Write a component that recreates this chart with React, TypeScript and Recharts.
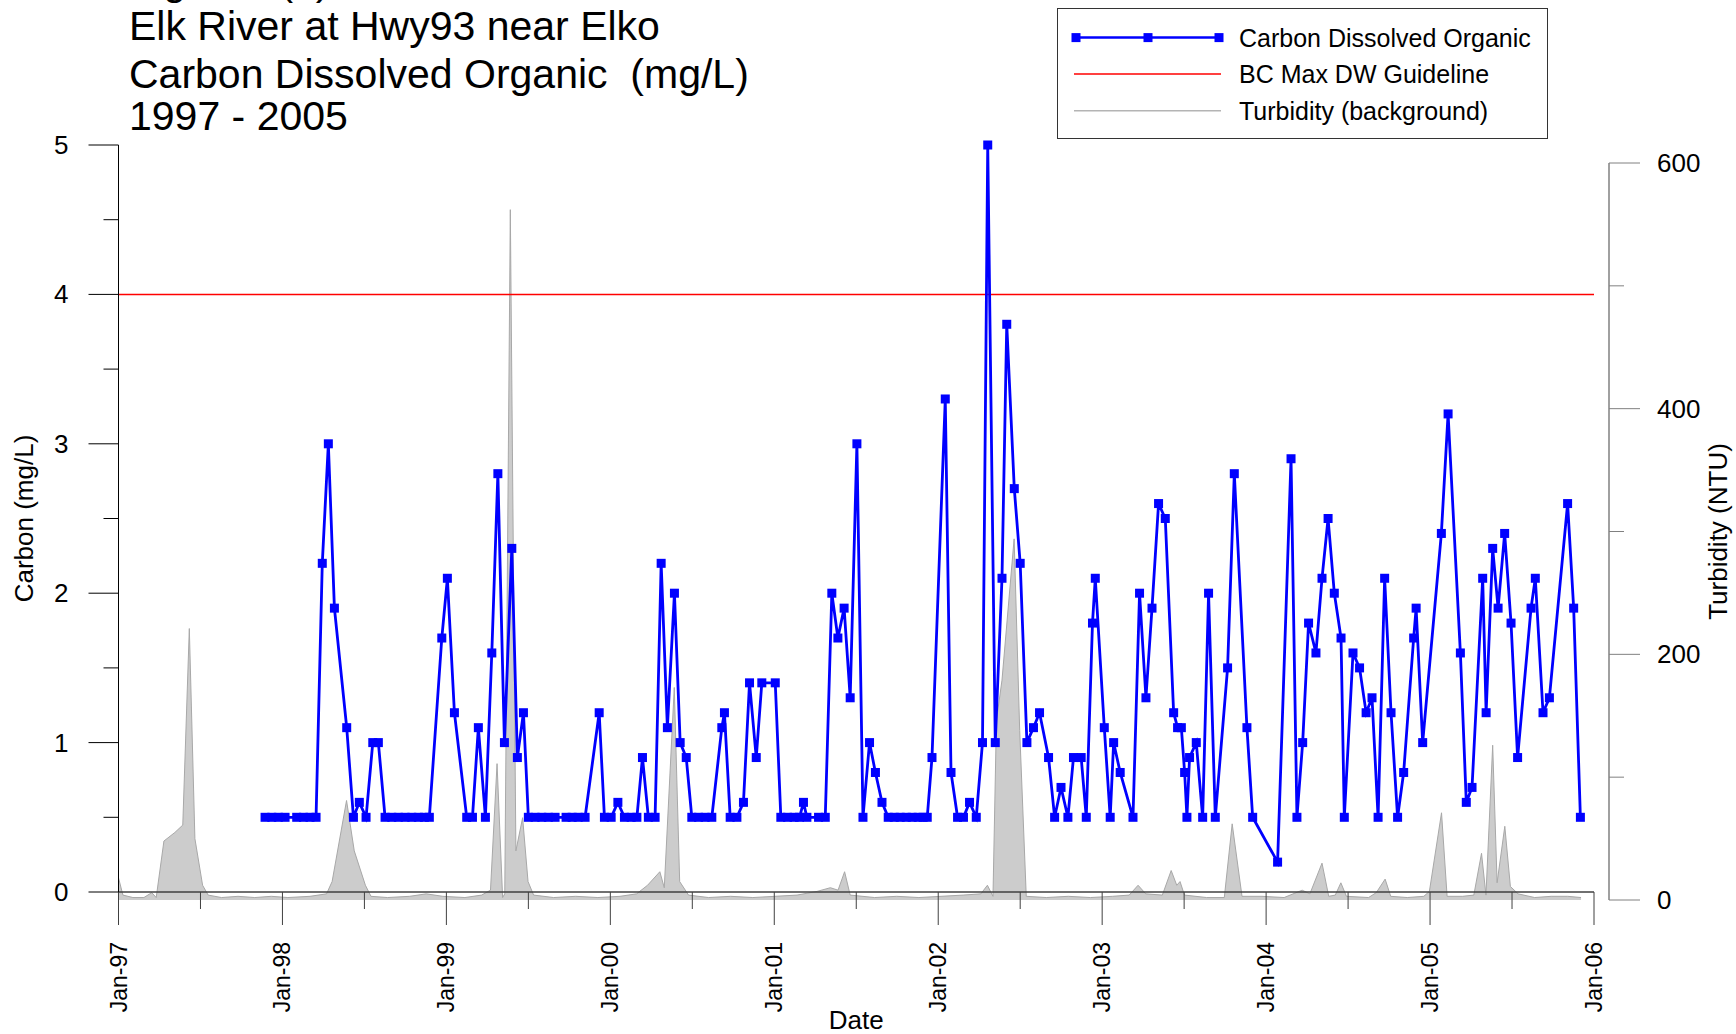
import React from "react";
import { ComposedChart, Line, Area, XAxis, YAxis, ReferenceLine } from "recharts";

// sample dates as decimal years
const carbonDates = [
  1997.894, 1997.935, 1997.975, 1998.016, 1998.087, 1998.128, 1998.168, 1998.205, 1998.243, 1998.28,
  1998.317, 1998.392, 1998.433, 1998.469, 1998.51, 1998.551, 1998.585, 1998.626, 1998.667, 1998.707,
  1998.748, 1998.789, 1998.829, 1998.866, 1998.896, 1998.972, 1999.006, 1999.049, 1999.124, 1999.159,
  1999.195, 1999.238, 1999.277, 1999.314, 1999.354, 1999.399, 1999.433, 1999.47, 1999.5, 1999.541,
  1999.582, 1999.622, 1999.663, 1999.73, 1999.767, 1999.804, 1999.846, 1999.932, 1999.964, 2000.005,
  2000.046, 2000.086, 2000.127, 2000.162, 2000.196, 2000.232, 2000.273, 2000.31, 2000.348, 2000.391,
  2000.426, 2000.463, 2000.497, 2000.538, 2000.578, 2000.619, 2000.68, 2000.696, 2000.731, 2000.772,
  2000.812, 2000.849, 2000.89, 2000.924, 2001.006, 2001.04, 2001.081, 2001.121, 2001.154, 2001.178,
  2001.199, 2001.27, 2001.311, 2001.351, 2001.388, 2001.426, 2001.463, 2001.504, 2001.541, 2001.581,
  2001.617, 2001.657, 2001.695, 2001.732, 2001.768, 2001.805, 2001.841, 2001.878, 2001.908, 2001.933,
  2001.962, 2002.043, 2002.078, 2002.118, 2002.154, 2002.191, 2002.232, 2002.27, 2002.302, 2002.348,
  2002.389, 2002.418, 2002.464, 2002.5, 2002.541, 2002.581, 2002.618, 2002.673, 2002.71, 2002.749,
  2002.791, 2002.825, 2002.872, 2002.903, 2002.941, 2002.958, 2003.013, 2003.049, 2003.07, 2003.11,
  2003.188, 2003.228, 2003.267, 2003.304, 2003.344, 2003.385, 2003.436, 2003.46, 2003.483, 2003.503,
  2003.517, 2003.533, 2003.574, 2003.613, 2003.649, 2003.69, 2003.765, 2003.806, 2003.883, 2003.918,
  2004.07, 2004.152, 2004.188, 2004.223, 2004.259, 2004.304, 2004.341, 2004.378, 2004.416, 2004.457,
  2004.477, 2004.53, 2004.57, 2004.61, 2004.646, 2004.683, 2004.723, 2004.762, 2004.802, 2004.839,
  2004.9, 2004.915, 2004.955, 2005.069, 2005.11, 2005.185, 2005.221, 2005.256, 2005.321, 2005.342,
  2005.382, 2005.415, 2005.455, 2005.494, 2005.534, 2005.616, 2005.642, 2005.689, 2005.728, 2005.839,
  2005.876, 2005.917,
];
const carbonValues = [
  0.5, 0.5, 0.5, 0.5, 0.5, 0.5, 0.5, 0.5, 2.2, 3.0,
  1.9, 1.1, 0.5, 0.6, 0.5, 1.0, 1.0, 0.5, 0.5, 0.5,
  0.5, 0.5, 0.5, 0.5, 0.5, 1.7, 2.1, 1.2, 0.5, 0.5,
  1.1, 0.5, 1.6, 2.8, 1.0, 2.3, 0.9, 1.2, 0.5, 0.5,
  0.5, 0.5, 0.5, 0.5, 0.5, 0.5, 0.5, 1.2, 0.5, 0.5,
  0.6, 0.5, 0.5, 0.5, 0.9, 0.5, 0.5, 2.2, 1.1, 2.0,
  1.0, 0.9, 0.5, 0.5, 0.5, 0.5, 1.1, 1.2, 0.5, 0.5,
  0.6, 1.4, 0.9, 1.4, 1.4, 0.5, 0.5, 0.5, 0.5, 0.6,
  0.5, 0.5, 0.5, 2.0, 1.7, 1.9, 1.3, 3.0, 0.5, 1.0,
  0.8, 0.6, 0.5, 0.5, 0.5, 0.5, 0.5, 0.5, 0.5, 0.5,
  0.9, 3.3, 0.8, 0.5, 0.5, 0.6, 0.5, 1.0, 5.0, 1.0,
  2.1, 3.8, 2.7, 2.2, 1.0, 1.1, 1.2, 0.9, 0.5, 0.7,
  0.5, 0.9, 0.9, 0.5, 1.8, 2.1, 1.1, 0.5, 1.0, 0.8,
  0.5, 2.0, 1.3, 1.9, 2.6, 2.5, 1.2, 1.1, 1.1, 0.8,
  0.5, 0.9, 1.0, 0.5, 2.0, 0.5, 1.5, 2.8, 1.1, 0.5,
  0.2, 2.9, 0.5, 1.0, 1.8, 1.6, 2.1, 2.5, 2.0, 1.7,
  0.5, 1.6, 1.5, 1.2, 1.3, 0.5, 2.1, 1.2, 0.5, 0.8,
  1.7, 1.9, 1.0, 2.4, 3.2, 1.6, 0.6, 0.7, 2.1, 1.2,
  2.3, 1.9, 2.4, 1.8, 0.9, 1.9, 2.1, 1.2, 1.3, 2.6,
  1.9, 0.5,
];

const turbidityDates = [
  1997.0, 1997.027, 1997.088, 1997.155, 1997.203, 1997.23, 1997.277, 1997.344, 1997.392, 1997.432,
  1997.466, 1997.513, 1997.547, 1997.628, 1997.729, 1997.831, 1997.932, 1998.033, 1998.168, 1998.269,
  1998.303, 1998.391, 1998.438, 1998.506, 1998.54, 1998.641, 1998.776, 1998.877, 1998.978, 1999.113,
  1999.215, 1999.269, 1999.309, 1999.343, 1999.356, 1999.39, 1999.424, 1999.465, 1999.498, 1999.532,
  1999.654, 1999.789, 1999.924, 2000.059, 2000.16, 2000.227, 2000.302, 2000.329, 2000.39, 2000.423,
  2000.477, 2000.599, 2000.734, 2000.869, 2001.004, 2001.139, 2001.261, 2001.342, 2001.389, 2001.429,
  2001.463, 2001.612, 2001.747, 2001.882, 2002.017, 2002.152, 2002.26, 2002.3, 2002.334, 2002.355,
  2002.389, 2002.463, 2002.497, 2002.537, 2002.659, 2002.793, 2002.928, 2003.063, 2003.165, 2003.219,
  2003.266, 2003.367, 2003.421, 2003.455, 2003.475, 2003.502, 2003.637, 2003.745, 2003.793, 2003.853,
  2003.975, 2004.11, 2004.22, 2004.267, 2004.341, 2004.382, 2004.422, 2004.456, 2004.49, 2004.625,
  2004.672, 2004.726, 2004.76, 2004.861, 2004.962, 2004.996, 2005.07, 2005.104, 2005.199, 2005.267,
  2005.314, 2005.341, 2005.382, 2005.409, 2005.456, 2005.49, 2005.537, 2005.638, 2005.739, 2005.84,
  2005.921,
];
const turbidityValues = [
  18, 4, 2, 2, 6, 2, 48, 55, 61, 221,
  50, 12, 4, 2, 3, 2, 3, 2, 3, 5,
  15, 81, 40, 12, 3, 2, 3, 5, 3, 2,
  4, 8, 111, 2, 5, 562, 40, 67, 15, 4,
  2, 3, 2, 3, 5, 12, 23, 10, 173, 15,
  4, 2, 3, 2, 3, 4, 7, 10, 8, 23,
  4, 2, 3, 2, 3, 4, 5, 12, 3, 146,
  179, 294, 138, 3, 2, 3, 2, 3, 4, 12,
  5, 4, 24, 12, 15, 4, 2, 2, 62, 3,
  3, 2, 8, 5, 30, 3, 4, 14, 3, 2,
  6, 17, 3, 2, 3, 7, 71, 3, 3, 4,
  38, 4, 126, 14, 60, 11, 5, 2, 3, 3,
  2,
];

const guidelineValue = 4;

const carbonTicks = [0, 0.5, 1, 1.5, 2, 2.5, 3, 3.5, 4, 4.5, 5];
const turbidityTicks = [0, 100, 200, 300, 400, 500, 600];
const dateTicks = [
  1997, 1997.5, 1998, 1998.5, 1999, 1999.5, 2000, 2000.5, 2001, 2001.5,
  2002, 2002.5, 2003, 2003.5, 2004, 2004.5, 2005, 2005.5, 2006,
];

const carbonData = carbonDates.map((t, i) => ({ t, v: carbonValues[i] }));
const turbidityData = turbidityDates.map((t, i) => ({ t, ntu: turbidityValues[i] }));

const W = 1736;
const H = 1034;
const FONT = '"Liberation Sans", Arial, sans-serif';
// the turbidity axis sits 15px right of the date axis end
const TURB_X_END = 2006 + 15 / 163.9;

const DateTick = ({ x, y, payload }: any) => {
  const v = payload.value;
  const major = Number.isInteger(v);
  const label = "Jan-" + String(v % 100).padStart(2, "0");
  return (
    <g>
      <line x1={x} x2={x} y1={y} y2={y + (major ? 33 : 17)} stroke="#404040" strokeWidth={1} />
      {major && (
        <text
          x={x}
          y={y + 50}
          transform={`rotate(-90 ${x} ${y + 50})`}
          textAnchor="end"
          dominantBaseline="central"
          fontSize={23}
          fill="#000"
        >
          {label}
        </text>
      )}
    </g>
  );
};

const CarbonTick = ({ x, y, payload }: any) => {
  const v = payload.value;
  const major = Number.isInteger(v);
  return (
    <g>
      <line x1={x - (major ? 30 : 15)} x2={x} y1={y} y2={y} stroke="#000" strokeWidth={1} />
      {major && (
        <text x={x - 50} y={y} textAnchor="end" dominantBaseline="central" fontSize={26} fill="#000">
          {v}
        </text>
      )}
    </g>
  );
};

const TurbTick = ({ x, y, payload }: any) => {
  const v = payload.value;
  const major = v % 200 === 0;
  return (
    <g>
      <line x1={x} x2={x + (major ? 31 : 15)} y1={y} y2={y} stroke="#808080" strokeWidth={1} />
      {major && (
        <text x={x + 48} y={y} textAnchor="start" dominantBaseline="central" fontSize={26} fill="#000">
          {v}
        </text>
      )}
    </g>
  );
};

const SquareDot = (props: any) => {
  const { cx, cy, index } = props;
  if (cx == null || cy == null) return <g key={index} />;
  return <rect key={index} x={cx - 4.5} y={cy - 4.5} width={9} height={9} fill="#0000ff" />;
};

function Overlay() {
  const rows = [37.6, 74, 110.7];
  return (
    <svg
      width={W}
      height={H}
      style={{ position: "absolute", left: 0, top: 0, pointerEvents: "none", fontFamily: FONT }}
    >
      <g fontSize={41} fill="#000">
        <text x={129} y={-5.5}>Figure 2(b)</text>
        <text x={129} y={40}>Elk River at Hwy93 near Elko</text>
        <text x={129} y={87.5}>{"Carbon Dissolved Organic\u00a0 (mg/L)"}</text>
        <text x={129} y={130}>1997 - 2005</text>
      </g>
      <rect x={1057.5} y={8.5} width={490} height={130} fill="#fff" stroke="#333" strokeWidth={1} />
      <line x1={1074} x2={1221} y1={rows[0]} y2={rows[0]} stroke="#0000ff" strokeWidth={2.5} />
      {[1076, 1148, 1219].map((mx) => (
        <rect key={mx} x={mx - 4.5} y={rows[0] - 4.5} width={9} height={9} fill="#0000ff" />
      ))}
      <line x1={1074} x2={1221} y1={rows[1]} y2={rows[1]} stroke="#ff0000" strokeWidth={1.5} />
      <line x1={1074} x2={1221} y1={rows[2]} y2={rows[2]} stroke="#b4b4b4" strokeWidth={1.5} />
      <g fontSize={25} fill="#000">
        <text x={1239} y={rows[0]} dominantBaseline="central">Carbon Dissolved Organic</text>
        <text x={1239} y={rows[1]} dominantBaseline="central">BC Max DW Guideline</text>
        <text x={1239} y={rows[2]} dominantBaseline="central">Turbidity (background)</text>
      </g>
    </svg>
  );
}

export default function App() {
  return (
    <div style={{ position: "relative", width: W, height: H, background: "#fff", fontFamily: FONT }}>
      <style>{`body{margin:0}`}</style>
      <div style={{ position: "absolute", left: 0, top: 0 }}>
        <ComposedChart
          width={W}
          height={H}
          data={turbidityData}
          margin={{ top: 163, right: 0, bottom: 134, left: 118.5 }}
        >
          <XAxis type="number" dataKey="t" domain={[1997, TURB_X_END]} allowDataOverflow hide />
          <YAxis
            yAxisId="turb"
            orientation="right"
            width={127}
            domain={[0, 600]}
            ticks={turbidityTicks}
            interval={0}
            tickSize={0}
            tickMargin={0}
            tick={<TurbTick />}
            axisLine={{ stroke: "#808080", strokeWidth: 1.5 }}
            tickLine={false}
            label={{
              value: "Turbidity (NTU)",
              angle: -90,
              position: "center",
              dx: 45,
              style: { fontSize: 26, fill: "#000" },
            }}
          />
          <Area
            yAxisId="turb"
            dataKey="ntu"
            type="linear"
            stroke="#a8a8a8"
            strokeWidth={1}
            fill="#cccccc"
            fillOpacity={1}
            dot={false}
            activeDot={false}
            isAnimationActive={false}
          />
        </ComposedChart>
      </div>
      <div style={{ position: "absolute", left: 0, top: 0 }}>
        <ComposedChart
          width={W}
          height={H}
          data={carbonData}
          margin={{ top: 145, right: 142, bottom: 0, left: 0 }}
        >
          <XAxis
            type="number"
            dataKey="t"
            domain={[1997, 2006]}
            ticks={dateTicks}
            interval={0}
            height={142}
            tickSize={0}
            tickMargin={0}
            tick={<DateTick />}
            tickLine={false}
            axisLine={{ stroke: "#404040", strokeWidth: 1.5 }}
            label={{ value: "Date", position: "insideBottom", offset: 5, style: { fontSize: 26, fill: "#000" } }}
          />
          <YAxis
            yAxisId="c"
            width={118.5}
            domain={[0, 5]}
            ticks={carbonTicks}
            interval={0}
            tickSize={0}
            tickMargin={0}
            tick={<CarbonTick />}
            tickLine={false}
            axisLine={{ stroke: "#000", strokeWidth: 1 }}
            label={{
              value: "Carbon (mg/L)",
              angle: -90,
              position: "center",
              dx: -35,
              style: { fontSize: 26, fill: "#000" },
            }}
          />
          <ReferenceLine yAxisId="c" y={guidelineValue} stroke="#ff0000" strokeWidth={1.5} />
          <Line
            yAxisId="c"
            dataKey="v"
            type="linear"
            stroke="#0000ff"
            strokeWidth={2.8}
            dot={SquareDot}
            activeDot={false}
            isAnimationActive={false}
          />
        </ComposedChart>
      </div>
      <Overlay />
    </div>
  );
}
